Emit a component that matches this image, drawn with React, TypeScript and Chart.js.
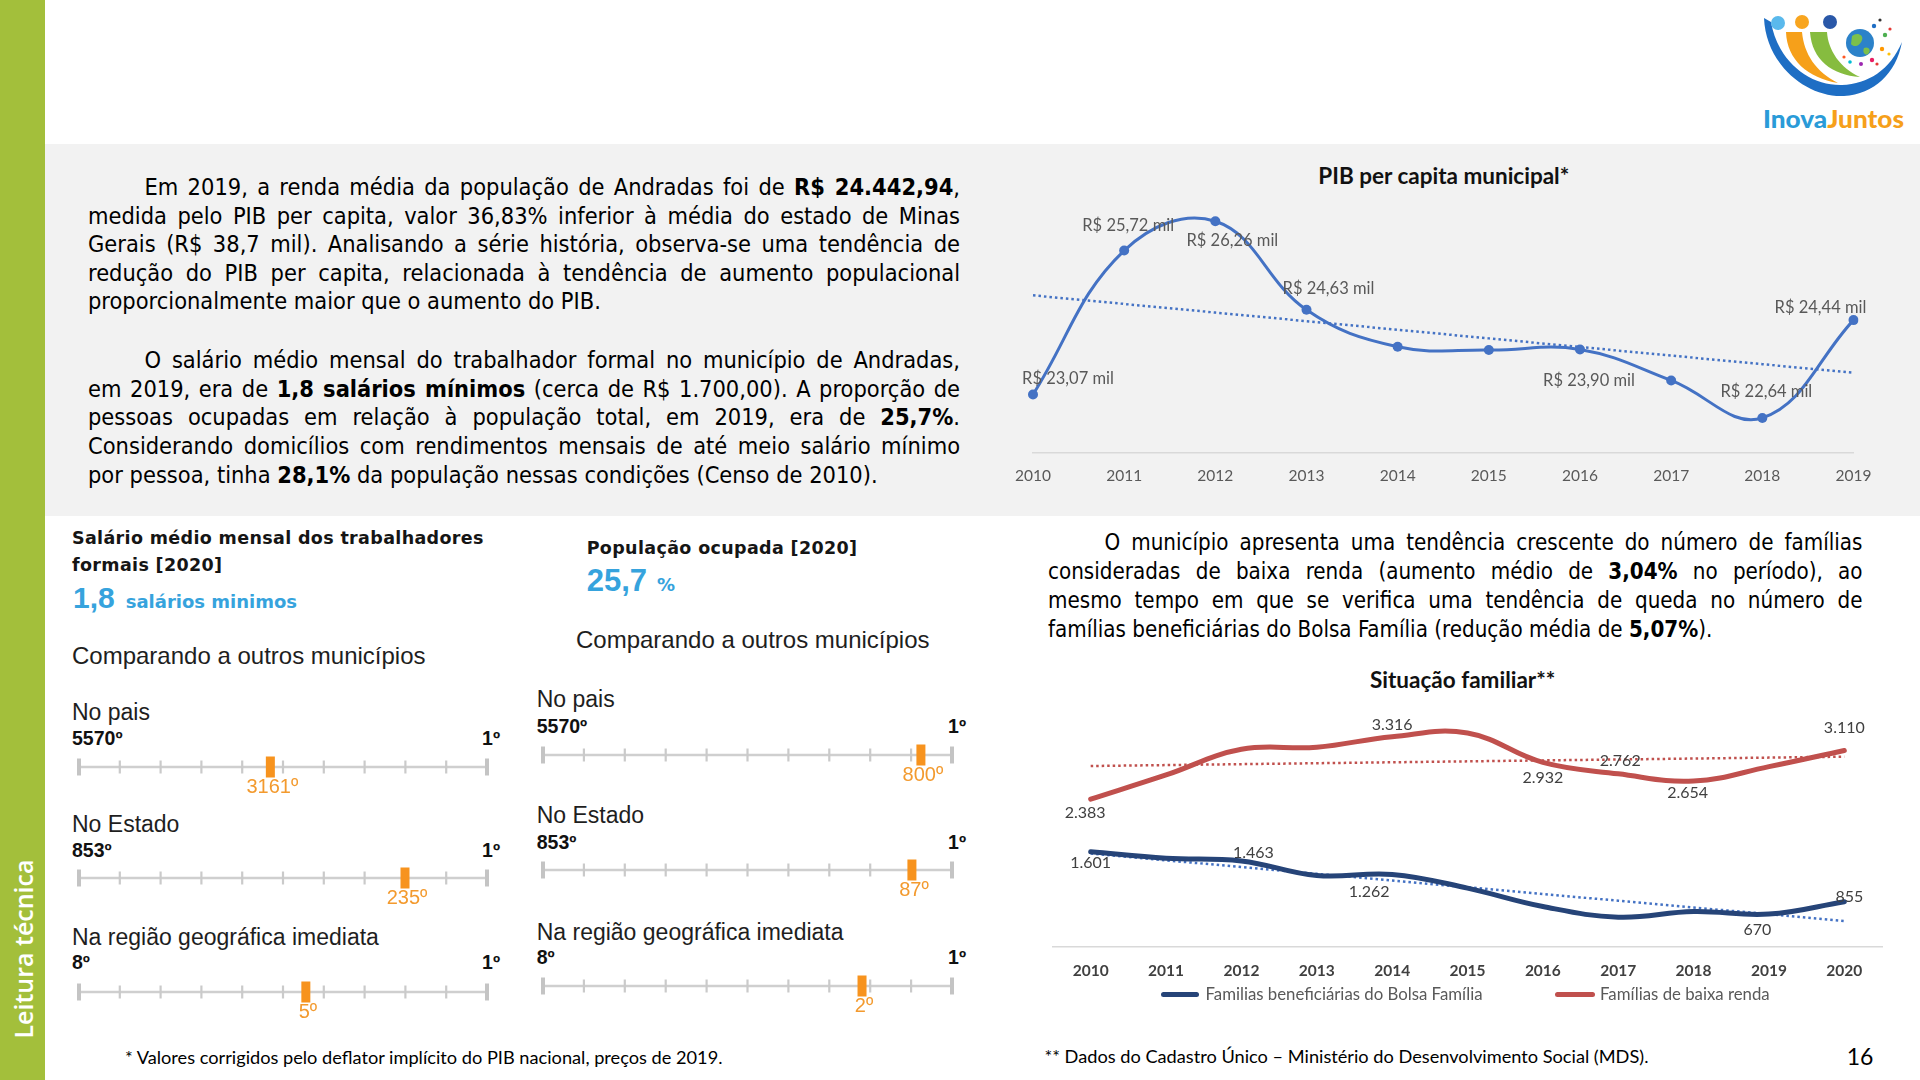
import React, { useEffect, useRef } from 'react';
import { Chart, registerables } from 'chart.js';

Chart.register(...registerables);

// ---------------- data ----------------
const pibYears = ['2010', '2011', '2012', '2013', '2014', '2015', '2016', '2017', '2018', '2019'];
const pibValues = [23.07, 25.72, 26.26, 24.63, 23.95, 23.89, 23.9, 23.33, 22.64, 24.44];
const pibLabeled = [0, 1, 2, 3, 6, 8, 9];

const famYears = ['2010', '2011', '2012', '2013', '2014', '2015', '2016', '2017', '2018', '2019', '2020'];
const famSeriesNames = ['Familias beneficiárias do Bolsa Família', 'Famílias de baixa renda'];
const bolsaFamilia = [1601, 1504, 1463, 1245, 1262, 1057, 783, 625, 708, 670, 855];
const baixaRenda = [2383, 2745, 3128, 3158, 3316, 3370, 2932, 2762, 2654, 2869, 3110];
const bolsaLabeled = [0, 2, 4, 9, 10];
const baixaLabeled = [0, 4, 6, 7, 8, 10];

const rankScopes = ['No pais', 'No Estado', 'Na região geográfica imediata'];
const rankTotals = [5570, 853, 8];
const salarioRanks = [3161, 235, 5];
const salarioMarker = [0.469, 0.799, 0.556];
const ocupadaRanks = [800, 87, 2];
const ocupadaMarker = [0.924, 0.902, 0.78];

// ---------------- label placement (style) ----------------
const pibLabelOffsets = [[35, -15.6], [4, -25], [17, 19], [22, -21], [9, 31], [4, -26], [-33, -12]];
const baixaLabelOffsets = [[-5.5, 14], [0, -12], [0, 15], [2, -13], [-6, 12], [0, -23]];
const bolsaLabelOffsets = [[0, 11.5], [12, -8.5], [-23, 17], [-11.6, 15.7], [5, -4.6]];

const leftRows = { x: 72, labelY: [713, 825, 938], totalY: [739, 851, 963], lineY: [766.7, 878.3, 991.7], rx0: 79, rlen: 408.3, oneRight: 500 };
const rightRows = { x: 536.7, labelY: [700, 815.7, 932.3], totalY: [726.7, 842.3, 957.3], lineY: [755, 870, 986], rx0: 543.3, rlen: 409, oneRight: 966 };

// ---------------- helpers ----------------
function linearTrend(vals: number[]) {
  const n = vals.length;
  const mx = (n - 1) / 2;
  const my = vals.reduce((a, b) => a + b, 0) / n;
  let num = 0;
  let den = 0;
  vals.forEach((v, i) => {
    num += (i - mx) * (v - my);
    den += (i - mx) * (i - mx);
  });
  const b = num / den;
  return vals.map((_, i) => my + b * (i - mx));
}
const fmtPib = (v: number) => 'R$ ' + v.toFixed(2).replace('.', ',') + ' mil';
const fmtInt = (v: number) => String(Math.round(v)).replace(/\B(?=(\d{3})+(?!\d))/g, '.');

type LabelItem = { ds: number; idx: number; text: string; dx: number; dy: number };
function labelPlugin(items: LabelItem[], font: string, color: string) {
  return {
    id: 'ptlabels',
    afterDatasetsDraw(chart: any) {
      const ctx = chart.ctx;
      ctx.save();
      ctx.font = font;
      ctx.fillStyle = color;
      ctx.textAlign = 'center';
      ctx.textBaseline = 'middle';
      items.forEach((it) => {
        const el = chart.getDatasetMeta(it.ds).data[it.idx];
        if (el) ctx.fillText(it.text, el.x + it.dx, el.y + it.dy);
      });
      ctx.restore();
    },
  };
}

// ---------------- charts ----------------
function PibChart() {
  const ref = useRef<HTMLCanvasElement>(null);
  useEffect(() => {
    const items = pibLabeled.map((idx, k) => ({ ds: 0, idx, text: fmtPib(pibValues[idx]), dx: pibLabelOffsets[k][0], dy: pibLabelOffsets[k][1] }));
    const chart = new Chart(ref.current!, {
      type: 'line',
      data: {
        labels: pibYears,
        datasets: [
          { data: pibValues, borderColor: '#4472C4', backgroundColor: '#4472C4', borderWidth: 3, tension: 0.4, pointRadius: 5, pointBorderWidth: 0, pointBackgroundColor: '#4472C4', fill: false },
          { data: linearTrend(pibValues), borderColor: '#4472C4', borderWidth: 2.5, borderDash: [2.5, 3], pointRadius: 0, tension: 0, fill: false },
        ],
      },
      options: {
        animation: false,
        responsive: false,
        events: [],
        layout: { padding: { left: 40, right: 39.5, top: 11, bottom: 0.7 } },
        plugins: { legend: { display: false }, tooltip: { enabled: false } },
        scales: {
          x: {
            offset: false,
            grid: { display: false, drawTicks: false },
            border: { display: true, color: '#D9D9D9', width: 1.5 },
            ticks: { color: '#595959', font: { family: 'Lato', size: 15.5 }, padding: 14, maxRotation: 0, autoSkip: false },
          },
          y: { display: false, min: 22, max: 27 },
        },
      } as any,
      plugins: [labelPlugin(items, '16.5px Lato', '#595959')],
    });
    return () => chart.destroy();
  }, []);
  return <canvas ref={ref} width={900} height={330} style={{ position: 'absolute', left: 993, top: 170, width: 900, height: 330 }} />;
}

function FamChart() {
  const ref = useRef<HTMLCanvasElement>(null);
  useEffect(() => {
    const items: LabelItem[] = [
      ...baixaLabeled.map((idx, k) => ({ ds: 0, idx, text: fmtInt(baixaRenda[idx]), dx: baixaLabelOffsets[k][0], dy: baixaLabelOffsets[k][1] })),
      ...bolsaLabeled.map((idx, k) => ({ ds: 1, idx, text: fmtInt(bolsaFamilia[idx]), dx: bolsaLabelOffsets[k][0], dy: bolsaLabelOffsets[k][1] })),
    ];
    const chart = new Chart(ref.current!, {
      type: 'line',
      data: {
        labels: famYears,
        datasets: [
          { label: famSeriesNames[1], data: baixaRenda, borderColor: '#C0504D', borderWidth: 5, tension: 0.4, pointRadius: 0, borderCapStyle: 'round', borderJoinStyle: 'round', fill: false },
          { label: famSeriesNames[0], data: bolsaFamilia, borderColor: '#264478', borderWidth: 5, tension: 0.4, pointRadius: 0, borderCapStyle: 'round', borderJoinStyle: 'round', fill: false },
          { data: linearTrend(baixaRenda), borderColor: '#C0504D', borderWidth: 2.5, borderDash: [2.5, 3], pointRadius: 0, tension: 0, fill: false },
          { data: linearTrend(bolsaFamilia), borderColor: '#4472C4', borderWidth: 2.5, borderDash: [2.5, 3], pointRadius: 0, tension: 0, fill: false },
        ],
      },
      options: {
        animation: false,
        responsive: false,
        events: [],
        layout: { padding: { left: 30, right: 30, top: 14.2, bottom: 0.5 } },
        plugins: { legend: { display: false }, tooltip: { enabled: false } },
        scales: {
          x: {
            offset: true,
            grid: { display: false, drawTicks: false },
            border: { display: true, color: '#D9D9D9', width: 1.5 },
            ticks: { color: '#404040', font: { family: 'Lato', size: 15.5, weight: 'bold' }, padding: 15.3, maxRotation: 0, autoSkip: false },
          },
          y: { display: false, min: 190, max: 3800 },
        },
      } as any,
      plugins: [labelPlugin(items, '16px Lato', '#404040')],
    });
    return () => chart.destroy();
  }, []);
  return <canvas ref={ref} width={889} height={306} style={{ position: 'absolute', left: 1023, top: 690, width: 889, height: 306 }} />;
}

function Ruler({ x0, len, lineY, pos, rank }: { x0: number; len: number; lineY: number; pos: number; rank: number }) {
  const ref = useRef<HTMLCanvasElement>(null);
  useEffect(() => {
    const rulerPlugin = {
      id: 'ruler',
      beforeDatasetsDraw(chart: any) {
        const sx = chart.scales.x;
        const sy = chart.scales.y;
        const ctx = chart.ctx;
        const cy = sy.getPixelForValue(0.5);
        ctx.save();
        ctx.strokeStyle = '#CFCFCF';
        ctx.lineWidth = 2.5;
        ctx.beginPath();
        ctx.moveTo(sx.getPixelForValue(0), cy);
        ctx.lineTo(sx.getPixelForValue(1), cy);
        ctx.stroke();
        for (let i = 0; i <= 10; i++) {
          const px = sx.getPixelForValue(i / 10);
          const end = i === 0 || i === 10;
          ctx.lineWidth = end ? 4 : 2.2;
          ctx.strokeStyle = end ? '#C4C4C4' : '#CACACA';
          const h = end ? 8.5 : 6.5;
          ctx.beginPath();
          ctx.moveTo(px, cy - h);
          ctx.lineTo(px, cy + h);
          ctx.stroke();
        }
        ctx.restore();
      },
      afterDatasetsDraw(chart: any) {
        const el = chart.getDatasetMeta(0).data[0];
        const ctx = chart.ctx;
        ctx.save();
        ctx.fillStyle = '#F7931E';
        ctx.fillRect(el.x - 4.5, el.y - 10.5, 9, 21);
        ctx.font = '20px "Liberation Sans", Arial, sans-serif';
        ctx.fillStyle = '#F39A2E';
        ctx.textAlign = 'center';
        ctx.textBaseline = 'middle';
        ctx.fillText(rank + 'º', el.x + 2, el.y + 20.5);
        ctx.restore();
      },
    };
    const chart = new Chart(ref.current!, {
      type: 'scatter',
      data: { datasets: [{ data: [{ x: pos, y: 0.5 }], pointRadius: 0, clip: false } as any] },
      options: {
        animation: false,
        responsive: false,
        events: [],
        layout: { padding: { left: 12, right: 12, top: 4, bottom: 26 } },
        plugins: { legend: { display: false }, tooltip: { enabled: false } },
        scales: { x: { type: 'linear', min: 0, max: 1, display: false }, y: { min: 0, max: 1, display: false } },
      } as any,
      plugins: [rulerPlugin],
    });
    return () => chart.destroy();
  }, []);
  const w = len + 24;
  return <canvas ref={ref} width={w} height={50} style={{ position: 'absolute', left: x0 - 12, top: lineY - 14, width: w, height: 50 }} />;
}

// ---------------- text helpers ----------------
function Txt(props: { x: number; cy: number; size: number; family?: string; weight?: any; color?: string; align?: string; ls?: number; children: any }) {
  const { x, cy, size, family = 'Lato, sans-serif', weight = 400, color = '#000', align = 'left', ls = 0, children } = props;
  const lh = size * 1.2;
  const style: any = { position: 'absolute', top: cy - lh / 2, fontSize: size, lineHeight: lh + 'px', fontFamily: family, fontWeight: weight, color, whiteSpace: 'nowrap', letterSpacing: ls };
  if (align === 'left') style.left = x;
  else if (align === 'right') style.right = 1920 - x;
  else {
    style.left = x;
    style.transform = 'translateX(-50%)';
  }
  return <div style={style}>{children}</div>;
}

function Para({ left, top, width, lh, size, family, lines }: { left: number; top: number; width: number; lh: number; size: number; family: string; lines: any[] }) {
  return (
    <div style={{ position: 'absolute', left, top, width, fontSize: size, lineHeight: lh + 'px', fontFamily: family, color: '#000' }}>
      {lines.map((ln, i) => (
        <div key={i} style={{ textAlign: 'justify', textAlignLast: i === lines.length - 1 ? 'left' : 'justify', textIndent: i === 0 ? 56.5 : 0 } as any}>
          {ln}
        </div>
      ))}
    </div>
  );
}

function Logo() {
  return (
    <svg width={152} height={132} viewBox="0 0 152 132" style={{ position: 'absolute', left: 1756, top: 4 }}>
      <path d="M8 14 C 10 62, 52 94, 88 92 C 118 90, 140 70, 146 38 C 134 66, 112 80, 86 81 C 54 82, 22 58, 15 18 Z" fill="#1E6EC4" />
      <path d="M30 28 C 31 56, 52 74, 82 79 C 60 68, 48 50, 46 28 Z" fill="#F6A01A" />
      <path d="M54 28 C 56 56, 76 71, 104 73 C 84 64, 72 46, 71 28 Z" fill="#86BC3F" />
      <circle cx={22} cy={19} r={7} fill="#5AB9EC" />
      <circle cx={46} cy={18} r={7} fill="#F8A51F" />
      <circle cx={74} cy={18} r={7} fill="#2A58A8" />
      <circle cx={104} cy={39} r={14} fill="#2C82C9" />
      <path d="M96 32 C 100 28, 108 30, 106 36 C 104 42, 98 44, 95 40 Z" fill="#7CC04B" />
      <path d="M108 44 C 112 42, 116 46, 112 50 C 109 52, 106 48, 108 44 Z" fill="#7CC04B" />
      <circle cx={118} cy={22} r={2.2} fill="#1E6EC4" />
      <circle cx={124} cy={16} r={1.6} fill="#333" />
      <circle cx={129} cy={31} r={2.2} fill="#4CAF50" />
      <circle cx={134} cy={25} r={1.6} fill="#E53935" />
      <circle cx={126} cy={45} r={2.2} fill="#FF9800" />
      <circle cx={116} cy={56} r={2.2} fill="#E91E63" />
      <circle cx={105} cy={60} r={2} fill="#9C27B0" />
      <circle cx={94} cy={58} r={1.8} fill="#00BCD4" />
      <circle cx={121} cy={60} r={1.6} fill="#E53935" />
      <circle cx={133} cy={50} r={1.6} fill="#FFC107" />
      <circle cx={88} cy={53} r={1.6} fill="#FF5722" />
      <text x={7} y={124} fontFamily="Lato, sans-serif" fontWeight={900} fontSize={24} textLength={141} lengthAdjust="spacingAndGlyphs">
        <tspan fill="#2A9BD8">Inova</tspan>
        <tspan fill="#F6A01A">Juntos</tspan>
      </text>
    </svg>
  );
}

function RankColumn({ cfg, ranks, markers }: { cfg: typeof leftRows; ranks: number[]; markers: number[] }) {
  const f = '"Liberation Sans", Arial, sans-serif';
  return (
    <>
      {rankScopes.map((s, i) => (
        <React.Fragment key={i}>
          <Txt x={cfg.x} cy={cfg.labelY[i]} size={23} family={f} color="#1E1E1E">{s}</Txt>
          <Txt x={cfg.x} cy={cfg.totalY[i]} size={19.5} family={f} weight={700} color="#111">{rankTotals[i] + 'º'}</Txt>
          <Txt x={cfg.oneRight} cy={cfg.totalY[i]} size={19.5} family={f} weight={700} color="#111" align="right">{'1º'}</Txt>
          <Ruler x0={cfg.rx0} len={cfg.rlen} lineY={cfg.lineY[i]} pos={markers[i]} rank={ranks[i]} />
        </React.Fragment>
      ))}
    </>
  );
}

const tahoma = '"DejaVu Sans Condensed", "Noto Sans", "DejaVu Sans", sans-serif';
const verdanaB = '"DejaVu Sans", Verdana, sans-serif';
const arial = '"Liberation Sans", Arial, sans-serif';
const blue = '#36A3DD';

export default function App() {
  return (
    <div style={{ position: 'absolute', left: 0, top: 0, width: 1920, height: 1080, overflow: 'hidden', background: '#fff', fontFamily: 'Lato, sans-serif' }}>
      <div style={{ position: 'absolute', left: 0, top: 0, width: 45, height: 1080, background: '#A3BF3B' }} />
      <div style={{ position: 'absolute', left: 22.5, top: 948.5, transform: 'translate(-50%,-50%) rotate(-90deg)', color: '#fff', fontFamily: '"Open Sans", sans-serif', fontWeight: 600, fontSize: 25, whiteSpace: 'nowrap', lineHeight: '30px' }}>
        Leitura técnica
      </div>
      <div style={{ position: 'absolute', left: 45, top: 144, width: 1875, height: 372, background: '#F2F2F2' }} />
      <Logo />

      <Para
        left={88}
        top={173}
        width={872}
        lh={28.5}
        size={23.4}
        family={tahoma}
        lines={[
          <>Em 2019, a renda média da população de Andradas foi de <b>R$ 24.442,94</b>,</>,
          <>medida pelo PIB per capita, valor 36,83% inferior à média do estado de Minas</>,
          <>Gerais (R$ 38,7 mil). Analisando a série história, observa-se uma tendência de</>,
          <>redução do PIB per capita, relacionada à tendência de aumento populacional</>,
          <>proporcionalmente maior que o aumento do PIB.</>,
        ]}
      />
      <Para
        left={88}
        top={345.8}
        width={872}
        lh={28.7}
        size={23.4}
        family={tahoma}
        lines={[
          <>O salário médio mensal do trabalhador formal no município de Andradas,</>,
          <>em 2019, era de <b>1,8 salários mínimos</b> (cerca de R$ 1.700,00). A proporção de</>,
          <>pessoas ocupadas em relação à população total, em 2019, era de <b>25,7%</b>.</>,
          <>Considerando domicílios com rendimentos mensais de até meio salário mínimo</>,
          <>por pessoa, tinha <b>28,1%</b> da população nessas condições (Censo de 2010).</>,
        ]}
      />

      <Txt x={1443.8} cy={175} size={22.5} weight={700} align="center" color="#111">PIB per capita municipal*</Txt>
      <PibChart />

      <Para
        left={1048}
        top={528}
        width={814.5}
        lh={29}
        size={22.2}
        family={tahoma}
        lines={[
          <>O município apresenta uma tendência crescente do número de famílias</>,
          <>consideradas de baixa renda (aumento médio de <b>3,04%</b> no período), ao</>,
          <>mesmo tempo em que se verifica uma tendência de queda no número de</>,
          <>famílias beneficiárias do Bolsa Família (redução média de <b>5,07%</b>).</>,
        ]}
      />

      <Txt x={1462.7} cy={679.6} size={22.5} weight={700} align="center" color="#111">Situação familiar**</Txt>
      <FamChart />
      <div style={{ position: 'absolute', left: 1161, top: 991.5, width: 38, height: 5, borderRadius: 3, background: '#264478' }} />
      <Txt x={1205.5} cy={994} size={16.8} color="#595959">{famSeriesNames[0]}</Txt>
      <div style={{ position: 'absolute', left: 1555, top: 991.5, width: 40, height: 5, borderRadius: 3, background: '#C0504D' }} />
      <Txt x={1600} cy={994} size={16.8} color="#595959">{famSeriesNames[1]}</Txt>

      {/* IBGE panel - salário */}
      <Txt x={72} cy={538.3} size={17.5} family={verdanaB} weight={700} color="#151515" ls={0.35}>Salário médio mensal dos trabalhadores</Txt>
      <Txt x={72} cy={565} size={17.5} family={verdanaB} weight={700} color="#151515" ls={0.35}>formais [2020]</Txt>
      <div style={{ position: 'absolute', left: 73, top: 580, lineHeight: '36px', whiteSpace: 'nowrap', color: blue, fontWeight: 700 }}>
        <span style={{ fontFamily: arial, fontSize: 30 }}>1,8</span>
        <span style={{ fontFamily: verdanaB, fontSize: 18, marginLeft: 11 }}>salários minimos</span>
      </div>
      <Txt x={72} cy={656} size={24} family={arial} color="#1E1E1E">Comparando a outros municípios</Txt>
      <RankColumn cfg={leftRows} ranks={salarioRanks} markers={salarioMarker} />

      {/* IBGE panel - população ocupada */}
      <Txt x={586.7} cy={548.3} size={17.5} family={verdanaB} weight={700} color="#151515" ls={0.35}>População ocupada [2020]</Txt>
      <div style={{ position: 'absolute', left: 586.7, top: 563.3, lineHeight: '36px', whiteSpace: 'nowrap', color: blue, fontWeight: 700 }}>
        <span style={{ fontFamily: arial, fontSize: 31 }}>25,7</span>
        <span style={{ fontFamily: verdanaB, fontSize: 18, marginLeft: 10 }}>%</span>
      </div>
      <Txt x={576} cy={640.7} size={24} family={arial} color="#1E1E1E">Comparando a outros municípios</Txt>
      <RankColumn cfg={rightRows} ranks={ocupadaRanks} markers={ocupadaMarker} />

      {/* footers */}
      <Txt x={125} cy={1058} size={18.2} color="#000">* Valores corrigidos pelo deflator implícito do PIB nacional, preços de 2019.</Txt>
      <Txt x={1044.5} cy={1056.7} size={18.2} color="#000">** Dados do Cadastro Único – Ministério do Desenvolvimento Social (MDS).</Txt>
      <Txt x={1860} cy={1057} size={23} align="center" color="#000">16</Txt>
    </div>
  );
}
